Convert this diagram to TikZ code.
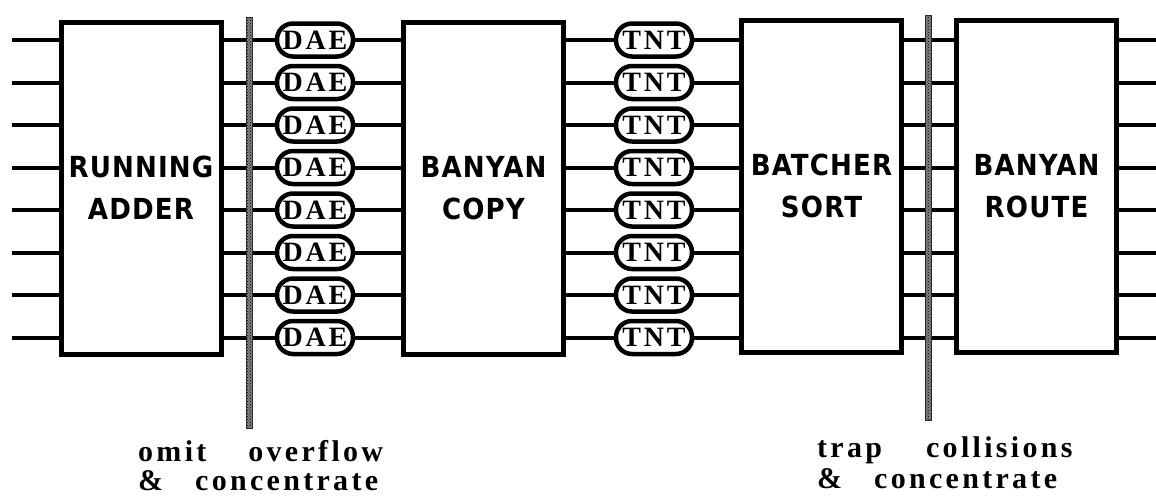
\documentclass[tikz,border=0pt]{standalone}
\usepackage{fontspec}
\usetikzlibrary{patterns}
\setmainfont{Liberation Serif}
\newfontfamily\blockfont{DejaVu Sans Condensed}[LetterSpace=4]
\newfontfamily\cellfont{Liberation Serif}[LetterSpace=10]
\newfontfamily\notefont{Liberation Serif}[LetterSpace=11]

\tikzset{
  stage/.style={draw, line width=5pt, minimum width=160pt, minimum height=332pt, inner sep=0pt,
    align=center, font=\blockfont\bfseries\fontsize{29}{42}\selectfont},
  capsule/.style={draw, line width=4.5pt, rounded corners=16pt, minimum width=76pt,
    minimum height=33pt, inner sep=0pt, font=\cellfont\bfseries\fontsize{28}{28}\selectfont},
  wire/.style={line width=4pt},
  cut/.style={fill=black!50, postaction={pattern=crosshatch dots}, draw=black!80, line width=0.8pt},
  note/.style={anchor=base west, inner sep=0pt, font=\notefont\bfseries\fontsize{30}{30}\selectfont},
}

\begin{document}
\begin{tikzpicture}[x=1pt, y=-1pt]
\useasboundingbox (0,0) rectangle (1156,496);

\node (ra) [stage] at (141,188) {RUNNING\\ADDER};
\node (bc) [stage] at (483.5,188) {BANYAN\\COPY};
\node (bs) [stage] at (821.5,186) {BATCHER\\SORT};
\node (br) [stage] at (1036.5,186) {BANYAN\\ROUTE};

\foreach \i in {1,...,8} {
  \pgfmathsetmacro\yy{40+42.5*(\i-1)}
  \node (dae\i) [capsule] at (315,\yy) {DAE};
  \node (tnt\i) [capsule] at (654,\yy) {TNT};
  \coordinate (in\i) at (12,\yy);
  \coordinate (out\i) at (1156,\yy);
  \draw [wire] (in\i) -- (in\i -| ra.west);
  \draw [wire] (ra.east |- dae\i) -- (dae\i);
  \draw [wire] (dae\i) -- (bc.west |- dae\i);
  \draw [wire] (bc.east |- tnt\i) -- (tnt\i);
  \draw [wire] (tnt\i) -- (bs.west |- tnt\i);
  \draw [wire] (bs.east |- tnt\i) -- (br.west |- tnt\i);
  \draw [wire] (br.east |- out\i) -- (out\i);
}

% cut lines
\draw [cut] (246,17) rectangle (252.5,428);
\draw [cut] (925,15) rectangle (931.5,420);

\node (omit) [note] at (138,461) {omit\hspace{42pt}overflow};
\node (conc1) [note] at (138,490) {\&\hspace{32pt}concentrate};
\node (trap) [note] at (817,457) {trap\hspace{44pt}collisions};
\node (conc2) [note] at (817,488) {\&\hspace{32pt}concentrate};

\end{tikzpicture}
\end{document}
